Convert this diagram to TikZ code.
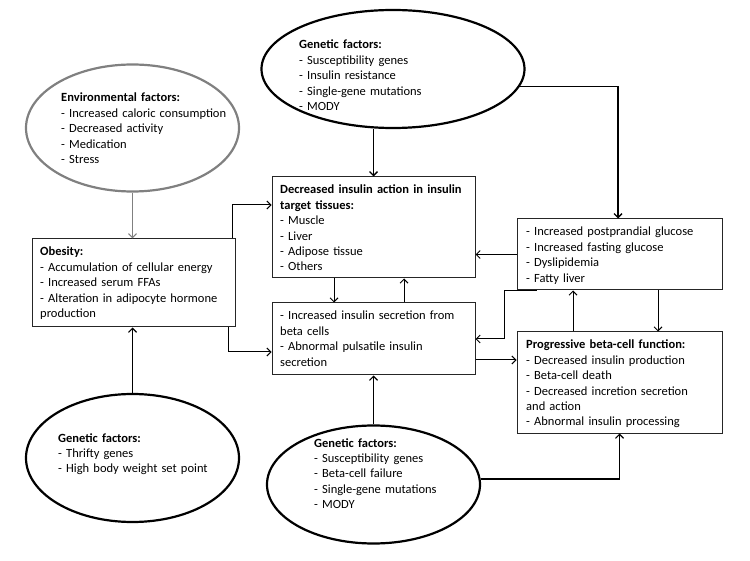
\documentclass[tikz,border=0pt]{standalone}
\usepackage{fontspec}
\setmainfont{Carlito}
\usetikzlibrary{shapes.geometric,arrows.meta,calc}
\begin{document}
\begin{tikzpicture}[x=1pt,y=-1pt,
  ell/.style={draw=black,line width=2.2pt,ellipse,inner sep=0pt},
  box/.style={draw=black!85,line width=1pt,rectangle,inner sep=0pt},
  txt/.style={anchor=base west,inner sep=0pt,align=left,text width=240pt,
    font=\fontsize{12.5}{15.4}\selectfont,text=black},
  arr/.style={draw=black,line width=1pt,-{Straight Barb[length=4pt,width=8pt]}},
  tarr/.style={draw=black,line width=1.8pt,-{Straight Barb[length=4pt,width=8pt,line width=1.2pt]}}]
\useasboundingbox (0,0) rectangle (750,561);
% ellipses
\node[ell,draw=black!50,minimum width=213pt,minimum height=127pt] (env) at (132.5,128) {};
\node[ell,minimum width=263pt,minimum height=118pt] (gtop) at (393,69) {};
\node[ell,minimum width=213pt,minimum height=128pt] (gbl) at (132.5,458) {};
\node[ell,minimum width=213pt,minimum height=118pt] (gbc) at (373.5,484.5) {};
% boxes
\node[box,minimum width=203pt,minimum height=88pt] (obes) at (133.5,283) {};
\node[box,minimum width=203pt,minimum height=101pt] (dec) at (373.5,227.5) {};
\node[box,minimum width=203pt,minimum height=72pt] (sec) at (373.5,339) {};
\node[box,minimum width=205pt,minimum height=71pt] (post) at (619.5,254.5) {};
\node[box,minimum width=205pt,minimum height=101pt] (prog) at (619.5,382.5) {};
% texts
\node[txt] (tenv) at (61,102) {\textbf{Environmental factors:}\\- Increased caloric consumption\\- Decreased activity\\- Medication\\- Stress};
\node[txt] (tgtop) at (299,49) {\textbf{Genetic factors:}\\- Susceptibility genes\\- Insulin resistance\\- Single-gene mutations\\- MODY};
\node[txt] (tobes) at (40,256) {\textbf{Obesity:}\\- Accumulation of cellular energy\\- Increased serum FFAs\\- Alteration in adipocyte hormone\\production};
\node[txt] (tdec) at (280,194) {\textbf{Decreased insulin action in insulin}\\\textbf{target tissues:}\\- Muscle\\- Liver\\- Adipose tissue\\- Others};
\node[txt] (tsec) at (280,320) {- Increased insulin secretion from\\beta cells\\- Abnormal pulsatile insulin\\secretion};
\node[txt] (tpost) at (526,236) {- Increased postprandial glucose\\- Increased fasting glucose\\- Dyslipidemia\\- Fatty liver};
\node[txt] (tprog) at (526,349) {\textbf{Progressive beta-cell function:}\\- Decreased insulin production\\- Beta-cell death\\- Decreased incretion secretion\\and action\\- Abnormal insulin processing};
\node[txt] (tgbl) at (58,442) {\textbf{Genetic factors:}\\- Thrifty genes\\- High body weight set point};
\node[txt] (tgbc) at (314,447) {\textbf{Genetic factors:}\\- Susceptibility genes\\- Beta-cell failure\\- Single-gene mutations\\- MODY};
% helper coordinates
\coordinate (c1) at ([xshift=-3pt]obes.north east);
\coordinate (c2) at ([yshift=22.5pt]dec.west);
\coordinate (c3) at ([xshift=-7pt]obes.south east);
\coordinate (c4) at ([yshift=-13pt]sec.west);
\coordinate (c5) at ([xshift=20pt]post.south west);
\coordinate (c6) at ([yshift=-21pt]sec.east);
% connectors
\draw[arr,draw=black!50,line width=1.2pt] (env.south) -- (env.south |- obes.north);
\draw[arr,line width=1.3pt] (dec.north |- gtop.south) -- (dec.north);
\draw[arr,line width=1.3pt] (gtop.-8) -| ([xshift=-1.5pt]post.north);
\draw[arr] (c1) |- (c2);
\draw[arr] (c3) |- (c4);
\draw[arr] (post.west) -- (post.west -| dec.east);
\draw[arr] (c5) -- ++(-32,0) |- (sec.east);
\draw[arr] (c6) -- (c6 -| prog.west);
\draw[arr] ([xshift=38.5pt]post.south) -- ([xshift=38.5pt]post.south |- prog.north);
\draw[arr] ([xshift=-46.5pt]prog.north) -- ([xshift=-46.5pt]prog.north |- post.south);
\draw[arr] ([xshift=-39.5pt]dec.south) -- ([xshift=-39.5pt]dec.south |- sec.north);
\draw[arr] ([xshift=30.5pt]sec.north) -- ([xshift=30.5pt]sec.north |- dec.south);
\draw[tarr] (gbl.north) -- (gbl.north |- obes.south);
\draw[tarr] (gbc.north) -- (sec.south);
\draw[tarr] (gbc.3.5) -| (prog.south);
\end{tikzpicture}
\end{document}
